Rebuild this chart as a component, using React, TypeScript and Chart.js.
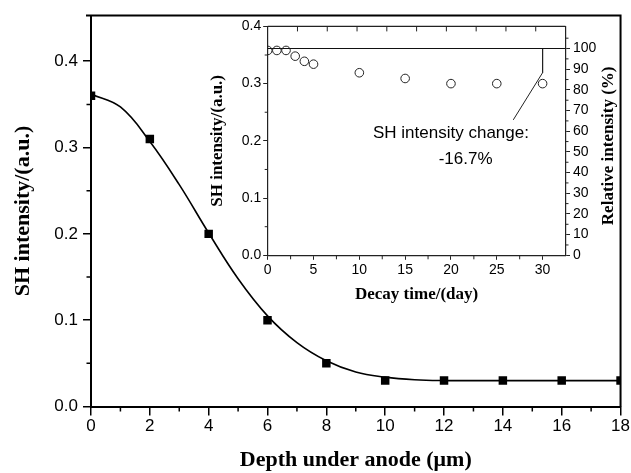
import React, { useEffect, useRef } from 'react';
import { Chart, registerables } from 'chart.js';

Chart.register(...registerables);

// ---------- main chart data ----------
const depthUm = [0, 2, 4, 6, 8, 10, 12, 14, 16, 18];
const shIntensity = [0.36, 0.31, 0.2, 0.1, 0.05, 0.03, 0.03, 0.03, 0.03, 0.03];
const fitDepthUm = [0, 1, 2, 3, 4, 5, 6, 7, 8, 9, 10, 11, 12, 13, 14, 15, 16, 17, 18];
const fitIntensity = [0.362, 0.347, 0.307, 0.257, 0.201, 0.148, 0.105, 0.074, 0.053, 0.04, 0.034, 0.031, 0.03, 0.03, 0.03, 0.03, 0.03, 0.03, 0.03];
const depthTicks = [0, 2, 4, 6, 8, 10, 12, 14, 16, 18];
const depthMinorTicks = [1, 3, 5, 7, 9, 11, 13, 15, 17];
const intensityTicks = [0, 0.1, 0.2, 0.3, 0.4];
const intensityMinorTicks = [0.05, 0.15, 0.25, 0.35];

// ---------- inset data ----------
const decayDays = [0, 1, 2, 3, 4, 5, 10, 15, 20, 25, 30];
const decayIntensity = [0.358, 0.358, 0.358, 0.348, 0.339, 0.334, 0.319, 0.309, 0.3, 0.3, 0.3];
const dayTicks = [0, 5, 10, 15, 20, 25, 30];
const dayMinorTicks = [2.5, 7.5, 12.5, 17.5, 22.5, 27.5];
const dayTopTicks = [3.25, 6.5, 9.75, 13, 16.25, 19.5, 22.75, 26, 29.25, 32.5];
const insetIntensityTicks = [0, 0.1, 0.2, 0.3, 0.4];
const insetIntensityMinorTicks = [0.05, 0.15, 0.25, 0.35];
const relativeTicks = [0, 10, 20, 30, 40, 50, 60, 70, 80, 90, 100];
const relativeMinorTicks = [5, 15, 25, 35, 45, 55, 65, 75, 85, 95, 105];
const referenceLineDays = [0, 32.5];
const referenceLinePct = [100, 100];
const changeMarkerDays = [30, 30, 26.8];
const changeMarkerPct = [100, 88.3, 65.5];
const annotationLines = ['SH intensity change:', '-16.7%'];
const annotationDays = [20, 21.6];
const annotationPct = [58.9, 46.4];

const SANS = '"Liberation Sans", Arial, Helvetica, sans-serif';
const SERIF = '"Liberation Serif", "Times New Roman", Times, serif';

type TickSpec = { scale: string; values: number[]; side: string; length: number; color: string; width: number };

function tickPlugin(id: string, specs: TickSpec[]) {
  return {
    id,
    afterDraw(chart: any) {
      const ctx = chart.ctx as CanvasRenderingContext2D;
      const area = chart.chartArea;
      for (const t of specs) {
        const s = chart.scales[t.scale];
        ctx.save();
        ctx.strokeStyle = t.color;
        ctx.lineWidth = t.width;
        ctx.beginPath();
        for (const v of t.values) {
          const p = s.getPixelForValue(v);
          if (t.side === 'bottom') {
            ctx.moveTo(p, area.bottom);
            ctx.lineTo(p, area.bottom + t.length);
          } else if (t.side === 'left') {
            ctx.moveTo(area.left, p);
            ctx.lineTo(area.left - t.length, p);
          } else if (t.side === 'right') {
            ctx.moveTo(area.right, p);
            ctx.lineTo(area.right + t.length, p);
          } else if (t.side === 'topIn') {
            ctx.moveTo(p, area.top);
            ctx.lineTo(p, area.top + t.length);
          }
        }
        ctx.stroke();
        ctx.restore();
      }
    },
  };
}

export default function App() {
  const mainRef = useRef<HTMLCanvasElement>(null);
  const insetRef = useRef<HTMLCanvasElement>(null);

  useEffect(() => {
    const pts = (xs: number[], ys: number[]) => xs.map((x, i) => ({ x, y: ys[i] }));

    const mainFrame = {
      id: 'mainFrame',
      afterDraw(chart: any) {
        const { ctx, chartArea: a } = chart;
        ctx.save();
        ctx.strokeStyle = '#000';
        ctx.lineWidth = 2;
        ctx.beginPath();
        ctx.moveTo(a.left - 5, a.top);
        ctx.lineTo(a.right, a.top);
        ctx.lineTo(a.right, a.bottom);
        ctx.stroke();
        ctx.restore();
      },
    };

    const main = new Chart(mainRef.current!, {
      type: 'scatter',
      data: {
        datasets: [
          {
            label: 'measured',
            data: pts(depthUm, shIntensity),
            pointStyle: 'rect',
            pointRadius: 6,
            pointHoverRadius: 6,
            backgroundColor: '#000',
            borderColor: '#000',
            borderWidth: 0,
            showLine: false,
          },
          {
            label: 'fit',
            type: 'line',
            data: pts(fitDepthUm, fitIntensity),
            borderColor: '#000',
            borderWidth: 1.6,
            pointRadius: 0,
            fill: false,
            tension: 0.4,
          } as any,
        ],
      },
      options: {
        animation: false,
        responsive: false,
        events: [],
        layout: { padding: { top: 15.5, right: 9, left: 0, bottom: 0 } },
        plugins: { legend: { display: false }, tooltip: { enabled: false } },
        scales: {
          x: {
            type: 'linear',
            min: 0,
            max: 18,
            afterBuildTicks: (s: any) => {
              s.ticks = depthTicks.map((v) => ({ value: v }));
            },
            afterFit: (s: any) => {
              s.height = 66.5;
            },
            ticks: {
              autoSkip: false,
              maxRotation: 0,
              padding: 1,
              color: '#000',
              font: { family: SANS, size: 17 },
              callback: (v: any) => String(v),
            },
            grid: { drawOnChartArea: false, tickLength: 9, color: '#000', lineWidth: 1.5 },
            border: { display: true, color: '#000', width: 2 },
            title: {
              display: true,
              text: 'Depth under anode (\u03bcm)',
              color: '#000',
              font: { family: SERIF, size: 22, weight: 'bold', lineHeight: 1 },
              padding: { top: 0, bottom: 2 },
            },
          },
          y: {
            type: 'linear',
            min: 0,
            max: 0.453,
            afterBuildTicks: (s: any) => {
              s.ticks = intensityTicks.map((v) => ({ value: v }));
            },
            afterFit: (s: any) => {
              s.width = 91;
            },
            ticks: {
              padding: 5,
              color: '#000',
              font: { family: SANS, size: 17 },
              callback: (v: any) => Number(v).toFixed(1),
            },
            grid: { drawOnChartArea: false, tickLength: 8, color: '#000', lineWidth: 1.5 },
            border: { display: true, color: '#000', width: 2 },
            title: {
              display: true,
              text: 'SH intensity/(a.u.)',
              color: '#000',
              font: { family: SERIF, size: 22, weight: 'bold', lineHeight: 1 },
              padding: { top: 12.3, bottom: 0 },
            },
          },
        },
      },
      plugins: [
        mainFrame,
        tickPlugin('mainMinor', [
          { scale: 'x', values: depthMinorTicks, side: 'bottom', length: 5, color: '#000', width: 1.5 },
          { scale: 'y', values: intensityMinorTicks, side: 'left', length: 4.5, color: '#000', width: 1.5 },
        ]),
      ],
    } as any);

    const insetDecor = {
      id: 'insetDecor',
      afterDraw(chart: any) {
        const { ctx, chartArea: a, scales } = chart;
        ctx.save();
        // top frame line
        ctx.strokeStyle = '#222';
        ctx.lineWidth = 1.2;
        ctx.beginPath();
        ctx.moveTo(a.left, a.top);
        ctx.lineTo(a.right, a.top);
        ctx.stroke();
        // annotation text
        ctx.fillStyle = '#000';
        ctx.font = `17px ${SANS}`;
        ctx.textAlign = 'center';
        ctx.textBaseline = 'middle';
        annotationLines.forEach((txt, i) => {
          ctx.fillText(txt, scales.x.getPixelForValue(annotationDays[i]), scales.y2.getPixelForValue(annotationPct[i]));
        });
        // right axis title (reads bottom-to-top)
        ctx.font = `bold 17px ${SERIF}`;
        ctx.translate(a.right + 43, (a.top + a.bottom) / 2 + 5);
        ctx.rotate(-Math.PI / 2);
        ctx.fillText('Relative intensity (%)', 0, 0);
        ctx.restore();
      },
    };

    const inset = new Chart(insetRef.current!, {
      type: 'scatter',
      data: {
        datasets: [
          {
            label: 'decay',
            data: pts(decayDays, decayIntensity),
            yAxisID: 'y',
            pointStyle: 'circle',
            pointRadius: 4.3,
            pointHoverRadius: 4.3,
            backgroundColor: 'rgba(0,0,0,0)',
            borderColor: '#222',
            borderWidth: 1,
            showLine: false,
          },
          {
            label: 'reference',
            type: 'line',
            data: pts(referenceLineDays, referenceLinePct),
            yAxisID: 'y2',
            borderColor: '#111',
            borderWidth: 1.2,
            pointRadius: 0,
            fill: false,
          } as any,
          {
            label: 'change',
            type: 'line',
            data: pts(changeMarkerDays, changeMarkerPct),
            yAxisID: 'y2',
            borderColor: '#222',
            borderWidth: 1,
            pointRadius: 0,
            fill: false,
            tension: 0,
          } as any,
        ],
      },
      options: {
        animation: false,
        responsive: false,
        events: [],
        layout: { padding: { top: 10, right: 0, left: 0, bottom: 0 } },
        plugins: { legend: { display: false }, tooltip: { enabled: false } },
        scales: {
          x: {
            type: 'linear',
            min: 0,
            max: 32.5,
            afterBuildTicks: (s: any) => {
              s.ticks = dayTicks.map((v) => ({ value: v }));
            },
            afterFit: (s: any) => {
              s.height = 56.7;
            },
            ticks: {
              autoSkip: false,
              maxRotation: 0,
              padding: 1.5,
              color: '#000',
              font: { family: SANS, size: 14 },
              callback: (v: any) => String(v),
            },
            grid: { drawOnChartArea: false, tickLength: 4.5, color: '#222', lineWidth: 1 },
            border: { display: true, color: '#222', width: 1.2 },
            title: {
              display: true,
              text: 'Decay time/(day)',
              color: '#000',
              font: { family: SERIF, size: 17, weight: 'bold', lineHeight: 1 },
              padding: { top: 0, bottom: 8.5 },
            },
          },
          y: {
            type: 'linear',
            position: 'left',
            min: 0,
            max: 0.4,
            afterBuildTicks: (s: any) => {
              s.ticks = insetIntensityTicks.map((v) => ({ value: v }));
            },
            afterFit: (s: any) => {
              s.width = 67.7;
            },
            ticks: {
              padding: 2,
              color: '#000',
              font: { family: SANS, size: 14 },
              callback: (v: any) => Number(v).toFixed(1),
            },
            grid: { drawOnChartArea: false, tickLength: 4.5, color: '#222', lineWidth: 1 },
            border: { display: true, color: '#222', width: 1.2 },
            title: {
              display: true,
              text: 'SH intensity/(a.u.)',
              color: '#000',
              font: { family: SERIF, size: 17, weight: 'bold', lineHeight: 1 },
              padding: { top: 9.5, bottom: 0 },
            },
          },
          y2: {
            type: 'linear',
            position: 'right',
            min: 0,
            max: 110.7,
            afterBuildTicks: (s: any) => {
              s.ticks = relativeTicks.map((v) => ({ value: v }));
            },
            afterFit: (s: any) => {
              s.width = 54.5;
            },
            ticks: {
              padding: 3,
              color: '#000',
              font: { family: SANS, size: 14 },
              callback: (v: any) => String(v),
            },
            grid: { drawOnChartArea: false, tickLength: 4.5, color: '#222', lineWidth: 1 },
            border: { display: true, color: '#222', width: 1.2 },
          },
        },
      },
      plugins: [
        insetDecor,
        tickPlugin('insetMinor', [
          { scale: 'x', values: dayMinorTicks, side: 'bottom', length: 4, color: '#222', width: 1 },
          { scale: 'x', values: dayTopTicks, side: 'topIn', length: 5, color: '#222', width: 1 },
          { scale: 'y', values: insetIntensityMinorTicks, side: 'left', length: 3, color: '#222', width: 1 },
          { scale: 'y2', values: relativeMinorTicks, side: 'right', length: 3, color: '#222', width: 1 },
        ]),
      ],
    } as any);

    return () => {
      main.destroy();
      inset.destroy();
    };
  }, []);

  return (
    <div style={{ position: 'absolute', left: 0, top: 0, width: 631, height: 473, background: '#fff' }}>
      <canvas
        ref={mainRef}
        width={631}
        height={473}
        style={{ position: 'absolute', left: 0, top: 0, width: 631, height: 473 }}
      />
      <canvas
        ref={insetRef}
        width={420}
        height={297}
        style={{ position: 'absolute', left: 200, top: 15, width: 420, height: 297 }}
      />
    </div>
  );
}
